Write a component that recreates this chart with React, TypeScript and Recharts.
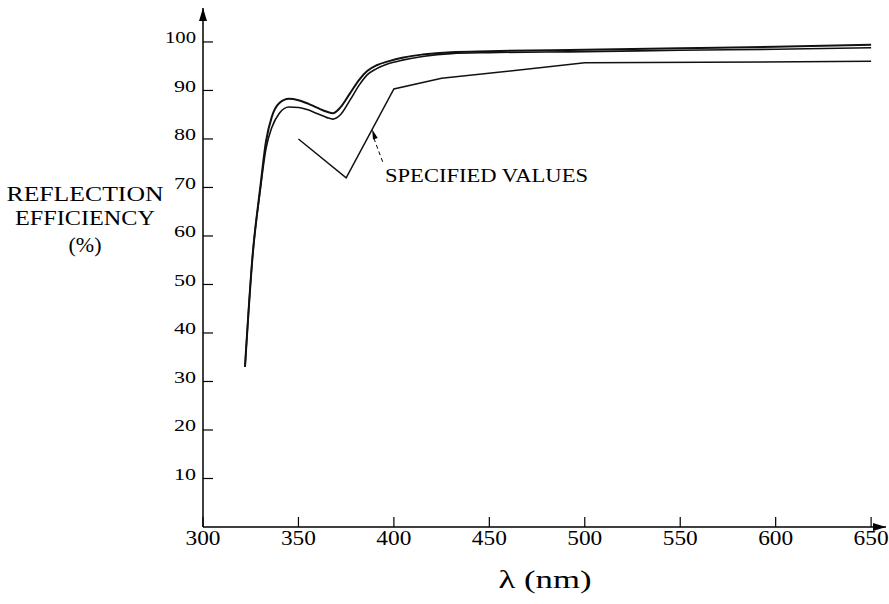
import { LineChart, Line, XAxis, YAxis, ReferenceLine, ReferenceDot } from "recharts";

// measured curve, two close traces (nm -> %)
const outerWl = [322, 326, 330, 333, 336, 340, 345, 350, 355, 360, 365, 368, 372, 377, 382, 386, 391, 397, 405, 415, 430, 450, 500, 550, 600, 650];
const outerPct = [33, 56, 70, 79.5, 84.5, 87.4, 88.3, 88.0, 87.3, 86.4, 85.6, 85.3, 86.5, 89.4, 92.3, 94.0, 95.2, 96.0, 96.8, 97.4, 97.9, 98.1, 98.4, 98.7, 99.0, 99.4];
const innerWl = [322, 326, 330, 333, 336, 340, 345, 350, 355, 360, 365, 368, 372, 377, 382, 386, 391, 397, 405, 415, 430, 450, 500, 550, 600, 650];
const innerPct = [33, 56, 69.5, 78, 82.3, 85.3, 86.6, 86.5, 86.0, 85.2, 84.4, 84.1, 85.0, 88.0, 91.2, 93.2, 94.5, 95.5, 96.3, 97.0, 97.6, 97.8, 98.0, 98.3, 98.5, 98.8];

// specified values (piecewise linear)
const specWl = [350, 375, 400, 425, 500, 650];
const specPct = [80, 72, 90.3, 92.5, 95.7, 96.0];

const xTicks = [300, 350, 400, 450, 500, 550, 600, 650];
const yTicks = [10, 20, 30, 40, 50, 60, 70, 80, 90, 100];

const toRows = (xs: number[], ys: number[]) => xs.map((x, i) => ({ x, y: ys[i] }));
const outerData = toRows(outerWl, outerPct);
const innerData = toRows(innerWl, innerPct);
const specData = toRows(specWl, specPct);

const SERIF = "'Liberation Serif', 'Times New Roman', Times, serif";
const serif = { fontFamily: SERIF };

const XTick = ({ x, y, payload }: any) => (
  <g>
    <line x1={x} y1={y} x2={x} y2={y - 10} stroke="#000" strokeWidth={1.2} />
    <text x={x} y={y + 18} textAnchor="middle" style={serif} fontSize={20} fill="#000"
      textLength={35} lengthAdjust="spacingAndGlyphs">
      {payload.value}
    </text>
  </g>
);

const YTick = ({ x, y, payload }: any) => {
  const s = String(payload.value);
  return (
    <g>
      <line x1={x} y1={y} x2={x + 10} y2={y} stroke="#000" strokeWidth={1.2} />
      <text x={x - 7} y={y + 1.5} textAnchor="end" style={serif} fontSize={17} fill="#000"
        textLength={s.length === 3 ? 31 : 22} lengthAdjust="spacingAndGlyphs">
        {s}
      </text>
    </g>
  );
};

const UpArrow = ({ cx, cy }: any) => (
  <path d={`M${cx},${cy} L${cx - 4},${cy + 13} L${cx + 4},${cy + 13} Z`} fill="#000" />
);
const RightArrow = ({ cx, cy }: any) => (
  <path d={`M${cx},${cy} L${cx - 13},${cy - 4} L${cx - 13},${cy + 4} Z`} fill="#000" />
);
const NoteArrow = ({ cx, cy }: any) => (
  <path
    d={`M${cx},${cy} L${cx - 2.5},${cy + 10} L${cx + 2.5},${cy + 10} Z`}
    fill="#000"
    transform={`rotate(-19 ${cx} ${cy})`}
  />
);

export default function App() {
  return (
    <div style={{ position: "absolute", left: 0, top: 0, width: 889, height: 604, background: "#fff" }}>
      <LineChart width={889} height={604} margin={{ top: 8, right: 3, bottom: 37, left: 143 }}>
        <XAxis
          type="number"
          dataKey="x"
          domain={[300, 657.8]}
          ticks={xTicks}
          interval={0}
          height={40}
          tickSize={0}
          tickMargin={0}
          tickLine={false}
          tick={<XTick />}
          axisLine={{ stroke: "#000", strokeWidth: 1.5 }}
        />
        <YAxis
          type="number"
          dataKey="y"
          domain={[0, 107]}
          ticks={yTicks}
          interval={0}
          width={60}
          tickSize={0}
          tickMargin={0}
          tickLine={false}
          tick={<YTick />}
          axisLine={{ stroke: "#000", strokeWidth: 1.5 }}
        />
        <ReferenceDot x={300} y={107} r={0} shape={<UpArrow />} />
        <ReferenceDot x={657.8} y={0} r={0} shape={<RightArrow />} />
        <Line data={outerData} dataKey="y" type="monotone" stroke="#111" strokeWidth={2} dot={false} isAnimationActive={false} />
        <Line data={innerData} dataKey="y" type="monotone" stroke="#111" strokeWidth={1.6} dot={false} isAnimationActive={false} />
        <Line data={specData} dataKey="y" type="linear" stroke="#111" strokeWidth={1.5} dot={false} isAnimationActive={false} />
        <ReferenceLine
          segment={[{ x: 394.1, y: 75.3 }, { x: 389.2, y: 80.5 }]}
          stroke="#000"
          strokeWidth={1}
          strokeDasharray="4 3"
        />
        <ReferenceDot x={388.6} y={82} r={0} shape={<NoteArrow />} />
      </LineChart>
      <svg width={889} height={604} style={{ position: "absolute", left: 0, top: 0, pointerEvents: "none" }}>
        <g style={serif} fill="#000">
          <text x={385} y={181.7} fontSize={19} textLength={203} lengthAdjust="spacingAndGlyphs">SPECIFIED VALUES</text>
          <text x={85} y={200.5} fontSize={20} textAnchor="middle" textLength={157} lengthAdjust="spacingAndGlyphs">REFLECTION</text>
          <text x={85} y={224.5} fontSize={20} textAnchor="middle" textLength={140} lengthAdjust="spacingAndGlyphs">EFFICIENCY</text>
          <text x={85} y={252} fontSize={21} textAnchor="middle" textLength={33} lengthAdjust="spacingAndGlyphs">(%)</text>
          <text x={545} y={588} fontSize={25} textAnchor="middle" textLength={93} lengthAdjust="spacingAndGlyphs">λ (nm)</text>
        </g>
      </svg>
    </div>
  );
}
